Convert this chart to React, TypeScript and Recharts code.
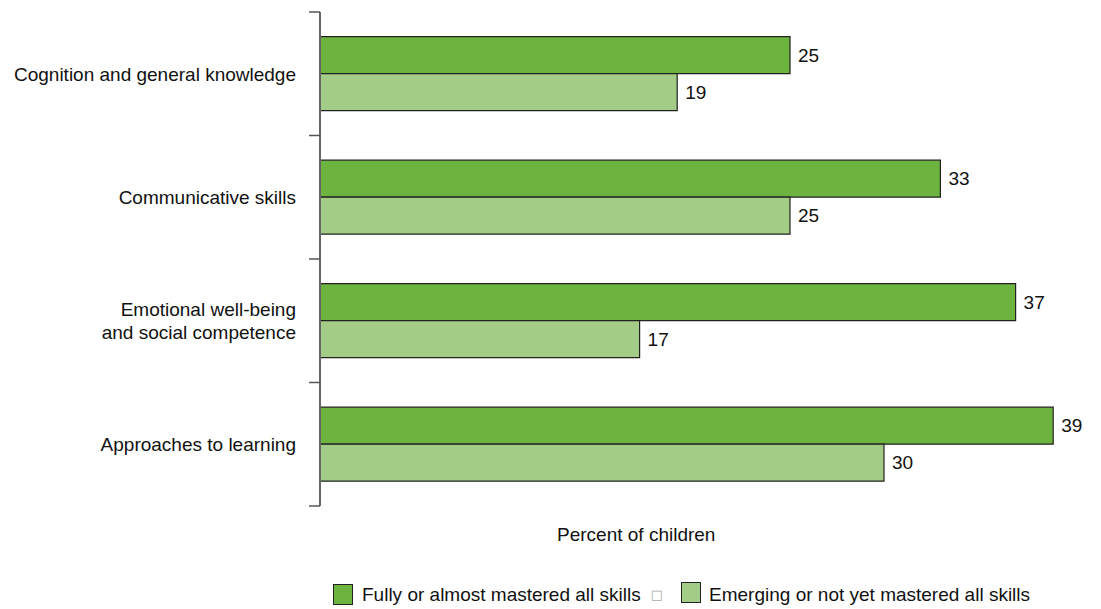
import { BarChart, Bar, XAxis, YAxis, LabelList } from "recharts";

const categories = [
  "Cognition and general knowledge",
  "Communicative skills",
  "Emotional well-being|and social competence",
  "Approaches to learning",
];
const fullyMastered = [25, 33, 37, 39];
const emerging = [19, 25, 17, 30];
const seriesNames = ["Fully or almost mastered all skills", "Emerging or not yet mastered all skills"];

const DARK = "#6cb33f";
const LIGHT = "#a3cd86";
const FONT = "'Liberation Sans', Arial, sans-serif";

const W = 1101;
const H = 609;
const TOP = 12;
const BOTTOM = 506;
const AXIS_X = 320;
const BAND = (BOTTOM - TOP) / categories.length;

const data = categories.map((c, i) => ({
  name: c,
  full: fullyMastered[i],
  emerging: emerging[i],
}));

function CategoryTick(props: any) {
  const { y, payload, index } = props;
  const lines = String(payload.value).split("|");
  const lh = 23;
  const start = y - ((lines.length - 1) * lh) / 2;
  return (
    <g>
      <line x1={AXIS_X - 11} x2={AXIS_X} y1={y - BAND / 2} y2={y - BAND / 2} stroke="#555" strokeWidth={1.5} />
      {index === categories.length - 1 && (
        <line x1={AXIS_X - 11} x2={AXIS_X} y1={y + BAND / 2} y2={y + BAND / 2} stroke="#555" strokeWidth={1.5} />
      )}
      <text x={AXIS_X - 24} y={start} textAnchor="end" dominantBaseline="central" fontSize={19} fill="#111" fontFamily={FONT}>
        {lines.map((l, i) => (
          <tspan key={i} x={AXIS_X - 24} dy={i === 0 ? 0 : lh}>
            {l}
          </tspan>
        ))}
      </text>
    </g>
  );
}

function ChartLegend() {
  const box = (color: string) => (
    <span style={{ width: 20, height: 21, background: color, border: "1px solid #222", boxSizing: "border-box", display: "inline-block" }} />
  );
  return (
    <div
      style={{
        position: "absolute",
        left: 333,
        top: 583,
        height: 23,
        fontFamily: FONT,
        fontSize: 19,
        color: "#111",
        display: "flex",
        alignItems: "center",
        whiteSpace: "nowrap",
      }}
    >
      {box(DARK)}
      <span style={{ marginLeft: 9 }}>{seriesNames[0]}</span>
      <span style={{ marginLeft: 10, color: "#aaa", fontSize: 13, fontFamily: "'DejaVu Sans', sans-serif" }}>{"\u25A1"}</span>
      <span style={{ marginLeft: 18 }}>{box(LIGHT)}</span>
      <span style={{ marginLeft: 8 }}>{seriesNames[1]}</span>
    </div>
  );
}

export default function App() {
  return (
    <div style={{ position: "absolute", left: 0, top: 0, width: W, height: H, background: "#fff" }}>
      <BarChart
        width={W}
        height={H}
        data={data}
        layout="vertical"
        margin={{ top: TOP, right: 29, bottom: H - BOTTOM, left: 0 }}
        barCategoryGap="20%"
        barGap={0}
      >
        <XAxis type="number" domain={[0, 40]} hide />
        <YAxis
          type="category"
          dataKey="name"
          width={AXIS_X}
          axisLine={{ stroke: "#666", strokeWidth: 2 }}
          tickLine={false}
          tickSize={0}
          tickMargin={0}
          tick={<CategoryTick />}
          interval={0}
        />
        <Bar dataKey="full" name={seriesNames[0]} fill={DARK} stroke="#222" strokeWidth={1.2} isAnimationActive={false}>
          <LabelList dataKey="full" position="right" offset={8} fill="#111" fontSize={19} fontFamily={FONT} />
        </Bar>
        <Bar dataKey="emerging" name={seriesNames[1]} fill={LIGHT} stroke="#222" strokeWidth={1.2} isAnimationActive={false}>
          <LabelList dataKey="emerging" position="right" offset={8} fill="#111" fontSize={19} fontFamily={FONT} />
        </Bar>
      </BarChart>
      <div
        style={{
          position: "absolute",
          left: 557,
          top: 524,
          fontFamily: FONT,
          fontSize: 19,
          color: "#111",
          whiteSpace: "nowrap",
        }}
      >
        Percent of children
      </div>
      <ChartLegend />
    </div>
  );
}
